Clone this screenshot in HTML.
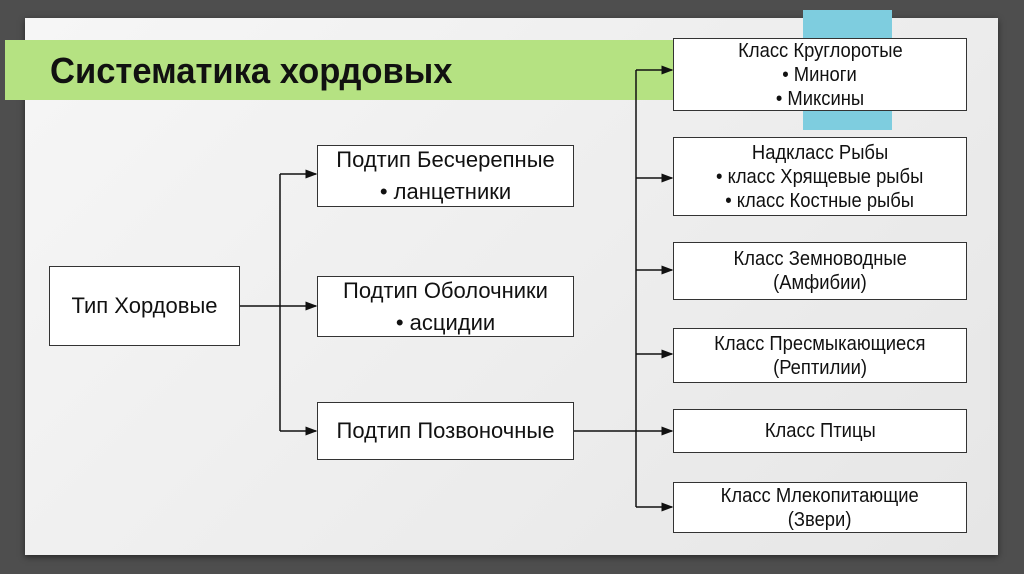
<!DOCTYPE html>
<html><head><meta charset="utf-8"><style>
body{margin:0;width:1024px;height:574px;overflow:hidden;background:#4e4e4e;font-family:"Liberation Sans",sans-serif;}
.panel{position:absolute;left:25px;top:18px;width:973px;height:537px;background:linear-gradient(135deg,#f6f6f6,#e6e6e6);box-shadow:0 2px 6px rgba(0,0,0,.5);}
.green{position:absolute;left:5px;top:40px;width:690px;height:60px;background:#b5e282;}
.blue{position:absolute;left:803px;top:10px;width:89px;height:120px;background:#7ecddf;}
.title{position:absolute;left:50px;top:50px;font-weight:bold;font-size:36px;color:#111;transform:scaleX(0.96);transform-origin:left;}
.b{position:absolute;background:#fff;border:1.5px solid #333;box-sizing:border-box;display:flex;flex-direction:column;justify-content:center;align-items:center;text-align:center;color:#111;}
.m{font-size:22px;line-height:32px;}
.r{font-size:20px;line-height:24px;}
.r div,.r span{display:block;transform:scaleX(0.92);}
svg{position:absolute;left:0;top:0;}
</style></head><body>
<div class="panel"></div>
<div class="blue"></div>
<div class="green"></div>
<div class="title">Систематика хордовых</div>
<svg width="1024" height="574"><defs><marker id="a" markerWidth="8" markerHeight="8" refX="7" refY="4" orient="auto"><path d="M0,1 L8,4 L0,7z" fill="#111"/></marker></defs>
<g stroke="#111" stroke-width="1.5" fill="none">
<path d="M240,306 H316" marker-end="url(#a)"/>
<path d="M280,174 V431"/>
<path d="M280,174 H316" marker-end="url(#a)"/>
<path d="M280,431 H316" marker-end="url(#a)"/>
<path d="M574,431 H672" marker-end="url(#a)"/>
<path d="M636,70 V507"/>
<path d="M636,70 H672" marker-end="url(#a)"/>
<path d="M636,178 H672" marker-end="url(#a)"/>
<path d="M636,270 H672" marker-end="url(#a)"/>
<path d="M636,354 H672" marker-end="url(#a)"/>
<path d="M636,507 H672" marker-end="url(#a)"/>
</g></svg>
<div class="b m" style="left:49px;top:266px;width:191px;height:80px">Тип Хордовые</div>
<div class="b m" style="left:317px;top:145px;width:257px;height:62px"><div>Подтип Бесчерепные</div><div>• ланцетники</div></div>
<div class="b m" style="left:317px;top:276px;width:257px;height:61px"><div>Подтип Оболочники</div><div>• асцидии</div></div>
<div class="b m" style="left:317px;top:402px;width:257px;height:58px">Подтип Позвоночные</div>
<div class="b r" style="left:673px;top:38px;width:294px;height:73px"><div>Класс Круглоротые</div><div>• Миноги</div><div>• Миксины</div></div>
<div class="b r" style="left:673px;top:137px;width:294px;height:79px"><div>Надкласс Рыбы</div><div>• класс Хрящевые рыбы</div><div>• класс Костные рыбы</div></div>
<div class="b r" style="left:673px;top:242px;width:294px;height:58px"><div>Класс Земноводные</div><div>(Амфибии)</div></div>
<div class="b r" style="left:673px;top:328px;width:294px;height:55px"><div>Класс Пресмыкающиеся</div><div>(Рептилии)</div></div>
<div class="b r" style="left:673px;top:409px;width:294px;height:44px"><div>Класс Птицы</div></div>
<div class="b r" style="left:673px;top:482px;width:294px;height:51px"><div>Класс Млекопитающие</div><div>(Звери)</div></div>
</body></html>
